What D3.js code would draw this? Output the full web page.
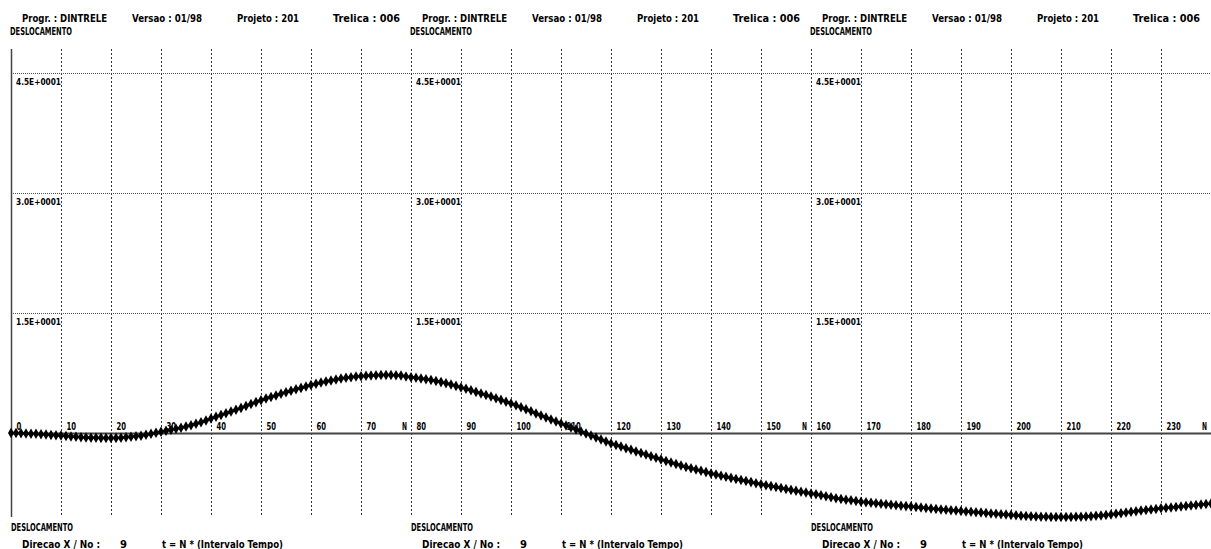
<!DOCTYPE html>
<html>
<head>
<meta charset="utf-8">
<script src="https://cdn.jsdelivr.net/npm/d3@7"></script>
<style>
  html, body { margin: 0; padding: 0; background: #fff; }
  svg { display: block; }
  text { font-family: "DejaVu Sans", sans-serif; font-weight: bold; fill: #000; }
</style>
</head>
<body>
<svg id="chart" width="1211" height="549"></svg>
<script>
// ---- data ----
// displacement at N = 0 .. 240 (one value per time step)
const displacement = [
  0.0, 0.0, -0.02, -0.05, -0.08, -0.1, -0.15, -0.2, -0.25, -0.28,
  -0.32, -0.38, -0.43, -0.48, -0.52, -0.55, -0.58, -0.6, -0.61, -0.62,
  -0.62, -0.61, -0.58, -0.54, -0.48, -0.42, -0.33, -0.22, -0.1, 0.03,
  0.17, 0.28, 0.4, 0.52, 0.65, 0.8, 0.97, 1.15, 1.35, 1.57,
  1.8, 2.02, 2.24, 2.46, 2.68, 2.9, 3.14, 3.38, 3.62, 3.86,
  4.1, 4.3, 4.5, 4.7, 4.9, 5.1, 5.28, 5.46, 5.64, 5.82,
  6.0, 6.15, 6.3, 6.44, 6.57, 6.7, 6.8, 6.9, 6.98, 7.05,
  7.1, 7.15, 7.19, 7.22, 7.24, 7.25, 7.24, 7.22, 7.18, 7.07,
  6.98, 6.9, 6.82, 6.72, 6.62, 6.5, 6.36, 6.22, 6.06, 5.89,
  5.7, 5.52, 5.33, 5.14, 4.95, 4.75, 4.55, 4.35, 4.14, 3.92,
  3.7, 3.46, 3.22, 2.97, 2.71, 2.45, 2.2, 1.95, 1.7, 1.45,
  1.2, 0.95, 0.7, 0.45, 0.2, -0.05, -0.3, -0.55, -0.8, -1.05,
  -1.3, -1.5, -1.7, -1.9, -2.1, -2.3, -2.5, -2.7, -2.9, -3.1,
  -3.3, -3.49, -3.68, -3.87, -4.06, -4.25, -4.41, -4.57, -4.73, -4.89,
  -5.05, -5.19, -5.33, -5.47, -5.61, -5.75, -5.88, -6.01, -6.14, -6.27,
  -6.4, -6.52, -6.64, -6.76, -6.88, -7.0, -7.11, -7.22, -7.33, -7.44,
  -7.55, -7.67, -7.79, -7.91, -8.03, -8.15, -8.24, -8.33, -8.42, -8.51,
  -8.6, -8.66, -8.72, -8.78, -8.84, -8.9, -8.96, -9.02, -9.08, -9.14,
  -9.2, -9.26, -9.32, -9.38, -9.44, -9.5, -9.55, -9.6, -9.65, -9.7,
  -9.75, -9.8, -9.85, -9.9, -9.95, -10.0, -10.05, -10.1, -10.15, -10.2,
  -10.25, -10.29, -10.33, -10.37, -10.41, -10.44, -10.46, -10.48, -10.49, -10.5,
  -10.5, -10.5, -10.49, -10.48, -10.46, -10.44, -10.4, -10.35, -10.3, -10.24,
  -10.18, -10.1, -10.02, -9.94, -9.85, -9.77, -9.7, -9.63, -9.56, -9.49,
  -9.42, -9.36, -9.3, -9.24, -9.18, -9.12, -9.06, -9.0, -8.94, -8.88,
  -8.82
];
const xTicks = [0,10,20,30,40,50,60,70,80,90,100,110,120,130,140,150,160,170,180,190,200,210,220,230];
const panelEnds = [80, 160, 240];
const panelStarts = [0, 80, 160];
const yTicks = [15, 30, 45];
const yTickLabels = ["1.5E+0001", "3.0E+0001", "4.5E+0001"];
const headerLabels = ["Progr. : DINTRELE", "Versao : 01/98", "Projeto : 201", "Trelica : 006"];
const titleLabel = "DESLOCAMENTO";
const footerLine = ["Direcao X / No :", "9", "t = N * (Intervalo Tempo)"];

// ---- layout ----
const svg = d3.select("#chart");
const x = d3.scaleLinear().domain([0, 240]).range([11, 1211]);
const y = d3.scaleLinear().domain([-10.5, 48]).range([517, 49]);

// horizontal dotted grid lines
svg.append("g").selectAll("line").data(yTicks).join("line")
  .attr("x1", x(0)).attr("x2", x(240))
  .attr("y1", d => Math.round(y(d)) + 0.5).attr("y2", d => Math.round(y(d)) + 0.5)
  .attr("stroke", "#555").attr("stroke-width", 1).attr("stroke-dasharray", "1,1");

// vertical dashed grid lines
svg.append("g").selectAll("line").data(xTicks.filter(d => d > 0)).join("line")
  .attr("x1", d => Math.round(x(d)) + 0.5).attr("x2", d => Math.round(x(d)) + 0.5)
  .attr("y1", y(48)).attr("y2", y(-10.5))
  .attr("stroke", "#333").attr("stroke-width", 1).attr("stroke-dasharray", "2,2");

// left axis
svg.append("line")
  .attr("x1", x(0) + 0.5).attr("x2", x(0) + 0.5)
  .attr("y1", y(48)).attr("y2", y(-10.5))
  .attr("stroke", "#444").attr("stroke-width", 1.5);

// y tick labels (repeated per panel)
panelStarts.forEach(p => {
  svg.append("g").selectAll("text").data(yTicks).join("text")
    .attr("x", x(p) + 5).attr("y", d => y(d) + 12)
    .attr("font-size", 9.5).attr("font-weight", "normal")
    .attr("textLength", 45).attr("lengthAdjust", "spacingAndGlyphs")
    .text((d, i) => yTickLabels[i]);
});

// x axis at zero
const xAxis = d3.axisTop(x).tickValues(xTicks).tickSize(0).tickPadding(3).tickFormat(d3.format("d"));
const gx = svg.append("g").attr("transform", `translate(0,${y(0)})`).call(xAxis);
gx.select(".domain").attr("stroke", "#444").attr("stroke-width", 2);
gx.selectAll(".tick text")
  .attr("text-anchor", "start").attr("x", 5)
  .attr("font-family", "DejaVu Sans").attr("font-weight", "bold").attr("font-size", 10.5)
  .attr("fill", "#000");
gx.selectAll(".tick text").each(function(d) {
  const s = String(d);
  d3.select(this).attr("textLength", s.length * 4.8).attr("lengthAdjust", "spacingAndGlyphs");
});
svg.append("g").selectAll("text").data(panelEnds).join("text")
  .attr("x", d => x(d) - 9).attr("y", y(0) - 3)
  .attr("font-size", 10.5).attr("textLength", 5).attr("lengthAdjust", "spacingAndGlyphs")
  .text("N");

// series: line + diamonds
const line = d3.line().x((d, i) => x(i)).y(d => y(d));
svg.append("path").datum(displacement)
  .attr("d", line).attr("fill", "none").attr("stroke", "#000").attr("stroke-width", 2.5);
const diamond = d3.symbol().type(d3.symbolDiamond).size(32);
svg.append("g").selectAll("path").data(displacement).join("path")
  .attr("transform", (d, i) => `translate(${x(i)},${y(d)})`)
  .attr("d", diamond).attr("fill", "#000");

// header & footer texts per panel
const headerX = [22, 132, 237, 333];
const headerW = [85, 70, 62, 67];
panelStarts.forEach((p, k) => {
  const ox = k * 400;
  headerLabels.forEach((t, i) => {
    svg.append("text").attr("x", ox + headerX[i]).attr("y", 22)
      .attr("font-size", 10).attr("textLength", headerW[i]).attr("lengthAdjust", "spacingAndGlyphs")
      .text(t);
  });
  svg.append("text").attr("x", ox + 10).attr("y", 35)
    .attr("font-size", 10).attr("textLength", 62).attr("lengthAdjust", "spacingAndGlyphs")
    .text(titleLabel);
  svg.append("text").attr("x", ox + 11).attr("y", 531)
    .attr("font-size", 10).attr("textLength", 62).attr("lengthAdjust", "spacingAndGlyphs")
    .text(titleLabel);
  svg.append("text").attr("x", ox + 22).attr("y", 548)
    .attr("font-size", 10).attr("textLength", 78).attr("lengthAdjust", "spacingAndGlyphs")
    .text(footerLine[0]);
  svg.append("text").attr("x", ox + 120).attr("y", 548)
    .attr("font-size", 10).text(footerLine[1]);
  svg.append("text").attr("x", ox + 162).attr("y", 548)
    .attr("font-size", 10).attr("textLength", 121).attr("lengthAdjust", "spacingAndGlyphs")
    .text(footerLine[2]);
});
</script>
</body>
</html>
